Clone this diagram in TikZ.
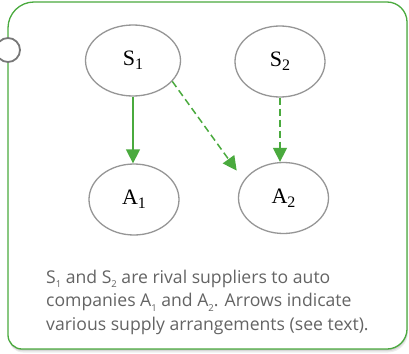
\documentclass[tikz,border=0pt]{standalone}
\usepackage{fontspec}
\setmainfont{Liberation Serif}
\newfontfamily\capfont{Open Sans}
\usetikzlibrary{arrows.meta,shapes.geometric}
\definecolor{linkgreen}{RGB}{74,170,62}
\definecolor{ringgray}{RGB}{120,120,120}
\definecolor{ovalgray}{RGB}{150,150,150}
\definecolor{captiongray}{RGB}{100,100,100}
\newcommand{\lowsub}[1]{\raisebox{-4.5pt}{\fontsize{9.5}{9.5}\selectfont #1}}
\newcommand{\ovalsub}[1]{\raisebox{-4pt}{\fontsize{16}{16}\selectfont #1}}
% panel outline: left, top, right, bottom edges and unequal corner radii
\newcommand{\panelpath}[2]{%
  (8+#1,28+#2) arc[start angle=180,end angle=270,radius=26]
  -- (387+#1,2+#2) arc[start angle=-90,end angle=0,radius=20]
  -- (407+#1,329+#2) arc[start angle=0,end angle=90,radius=20]
  -- (22+#1,349+#2) arc[start angle=90,end angle=180,radius=14] -- cycle}
\begin{document}
\begin{tikzpicture}[x=1pt,y=-1pt,
  oval/.style={draw=ovalgray,line width=1.3pt,ellipse,fill=white,
    minimum width=90pt,minimum height=71pt,inner sep=0pt,
    font=\fontsize{22}{22}\selectfont},
  supply/.style={draw=linkgreen,line width=1.5pt,
    -{Triangle[length=14pt,width=14pt]}},
  maybe/.style={supply,dash pattern=on 7pt off 4pt},
  frame/.style={draw=linkgreen,line width=1.3pt,fill=white}]
  \useasboundingbox (0,0) rectangle (409,353);
  % soft shadow below the panel
  \fill[black!7] \panelpath{1}{3.5};
  \fill[black!14] \panelpath{0.5}{2.2};
  \fill[black!24] \panelpath{0.2}{1};
  % panel
  \path[frame] \panelpath{0}{0};
  % binding ring on the left edge
  \node[circle,draw=ringgray,line width=1.8pt,fill=white,minimum size=24pt,inner sep=0pt]
    (ring) at (8,50) {};
  % suppliers and auto companies
  \node[oval,minimum width=95pt] (s1) at (133,60.5) {S\ovalsub{1}};
  \node[oval] (s2) at (280,61.5) {S\ovalsub{2}};
  \node[oval] (a1) at (134,199.5) {A\ovalsub{1}};
  \node[oval] (a2) at (283.5,198) {A\ovalsub{2}};
  % supply arrangements
  \draw[supply] (s1.south) -- (s1.south |- a1.north);
  \draw[maybe,shorten >=12pt] (s1.-28) -- (a2.156);
  \draw[maybe] (s2.south) -- (s2.south |- a2.north);
  % caption (anchored at the baseline of its last line)
  \node[anchor=base west,align=left,inner sep=0pt,text=captiongray,
    font=\capfont\fontsize{17.6}{23.5}\selectfont] (caption) at (46,330)
    {S\lowsub{1} and S\lowsub{2} are rival suppliers to auto\\
     companies A\lowsub{1} and A\lowsub{2}. Arrows indicate\\
     various supply arrangements (see text).};
\end{tikzpicture}
\end{document}
